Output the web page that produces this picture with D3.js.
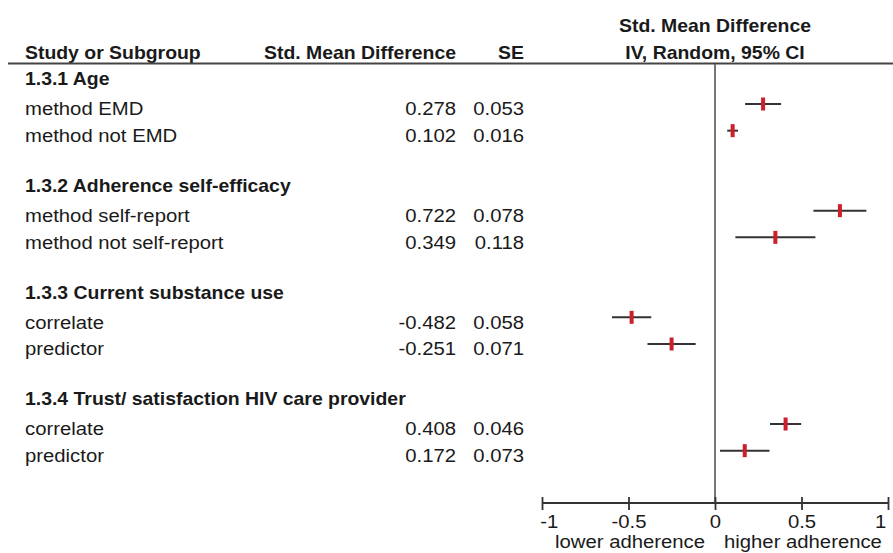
<!DOCTYPE html>
<html>
<head>
<meta charset="utf-8">
<script src="https://cdn.jsdelivr.net/npm/d3@7"></script>
<style>
  html, body { margin: 0; padding: 0; background: #fff; }
  svg { display: block; }
  text { font-family: "Liberation Sans", Arial, sans-serif; fill: #1a1a1a; }
</style>
</head>
<body>
<svg id="chart" width="893" height="553"></svg>
<script>
// ---- data ----
const groups = ["1.3.1 Age", "1.3.2 Adherence self-efficacy", "1.3.3 Current substance use", "1.3.4 Trust/ satisfaction HIV care provider"];
const studies = ["method EMD", "method not EMD", "method self-report", "method not self-report", "correlate", "predictor", "correlate", "predictor"];
const studyGroup = [0, 0, 1, 1, 2, 2, 3, 3];
const smd = [0.278, 0.102, 0.722, 0.349, -0.482, -0.251, 0.408, 0.172];
const se = [0.053, 0.016, 0.078, 0.118, 0.058, 0.071, 0.046, 0.073];
const tickValues = [-1, -0.5, 0, 0.5, 1];
const tickLabels = ["-1", "-0.5", "0", "0.5", "1"];
const headers = { study: "Study or Subgroup", smd: "Std. Mean Difference", se: "SE", plot1: "Std. Mean Difference", plot2: "IV, Random, 95% CI" };
const favours = ["lower adherence", "higher adherence"];

// ---- layout ----
const svg = d3.select("#chart");
const FS = 17.5, SXR = 1.16, SXB = 1.11;
const xLeft = 25, xSmd = 456, xSe = 524;

// build rows
const rows = [];
groups.forEach((g, gi) => {
  rows.push({ type: "group", label: g });
  studies.forEach((s, i) => {
    if (studyGroup[i] === gi) rows.push({ type: "study", label: s, i });
  });
  if (gi < groups.length - 1) rows.push({ type: "blank" });
});
rows.forEach((r, k) => r.k = k);

const y = d3.scaleLinear().domain([0, rows.length - 1]).range([77.33, 450.67]);
const x = d3.scaleLinear().domain([-1, 1]).range([542, 888]);
const axisY = 503;

function txt(g, str, tx, ty, opts = {}) {
  const bold = !!opts.bold;
  const sx = bold ? SXB : SXR;
  return g.append("text")
    .attr("transform", `translate(${tx},${ty}) scale(${sx},1)`)
    .attr("text-anchor", opts.anchor || "start")
    .attr("font-size", FS)
    .attr("font-weight", bold ? "bold" : "normal")
    .text(str);
}

// headers
const hg = svg.append("g");
txt(hg, headers.study, xLeft, 58.5, { bold: true });
txt(hg, headers.smd, xSmd, 58.5, { bold: true, anchor: "end" });
txt(hg, headers.se, xSe, 58.5, { bold: true, anchor: "end" });
txt(hg, headers.plot1, x(0), 31.5, { bold: true, anchor: "middle" });
txt(hg, headers.plot2, x(0), 58.5, { bold: true, anchor: "middle" });

svg.append("line")
  .attr("x1", 8).attr("x2", 893).attr("y1", 63.5).attr("y2", 63.5)
  .attr("stroke", "#444").attr("stroke-width", 2);

// zero line
svg.append("line")
  .attr("x1", x(0)).attr("x2", x(0)).attr("y1", 64).attr("y2", axisY)
  .attr("stroke", "#555").attr("stroke-width", 1.6);

// rows text
const tg = svg.append("g");
rows.forEach(r => {
  if (r.type === "group") {
    txt(tg, r.label, xLeft, y(r.k) + 8, { bold: true });
  } else if (r.type === "study") {
    const by = y(r.k) + 11.3;
    txt(tg, r.label, xLeft, by);
    txt(tg, smd[r.i].toFixed(3), xSmd, by, { anchor: "end" });
    txt(tg, se[r.i].toFixed(3), xSe, by, { anchor: "end" });
  }
});

// CI lines and markers
const studyRows = rows.filter(r => r.type === "study");
const pg = svg.append("g");
pg.selectAll("line.ci").data(studyRows).join("line")
  .attr("class", "ci")
  .attr("x1", r => x(smd[r.i] - 1.96 * se[r.i]))
  .attr("x2", r => x(smd[r.i] + 1.96 * se[r.i]))
  .attr("y1", r => y(r.k)).attr("y2", r => y(r.k))
  .attr("stroke", "#333").attr("stroke-width", 2);
pg.selectAll("rect.pt").data(studyRows).join("rect")
  .attr("class", "pt")
  .attr("x", r => x(smd[r.i]) - 2)
  .attr("y", r => y(r.k) - 6.5)
  .attr("width", 4).attr("height", 13)
  .attr("fill", "#cc1f2b");

// axis
const axis = d3.axisBottom(x).tickValues(tickValues)
  .tickFormat((d, i) => tickLabels[i]).tickSizeOuter(0);
const ag = svg.append("g").attr("transform", `translate(0,${axisY})`).call(axis);
ag.select(".domain").attr("stroke", "#333").attr("stroke-width", 1.8).attr("d", `M${x(-1)},0H${x(1)}`);
ag.selectAll(".tick line").attr("y1", -6).attr("y2", 7).attr("stroke", "#333").attr("stroke-width", 1.8);
ag.selectAll(".tick text")
  .attr("y", 0).attr("dy", null)
  .attr("font-family", "Liberation Sans, Arial, sans-serif")
  .attr("font-size", FS).attr("fill", "#1a1a1a")
  .attr("transform", `translate(0,25) scale(${SXR},1)`)
  .attr("text-anchor", (d, i) => i === 0 ? "start" : (i === tickValues.length - 1 ? "end" : "middle"))
  .attr("x", (d, i) => i === 0 ? -2 : (i === tickValues.length - 1 ? -2 : 0));

// favours labels
txt(svg, favours[0], x(0) - 10, 548, { anchor: "end" });
txt(svg, favours[1], x(0) + 9, 548, { anchor: "start" });
</script>
</body>
</html>
